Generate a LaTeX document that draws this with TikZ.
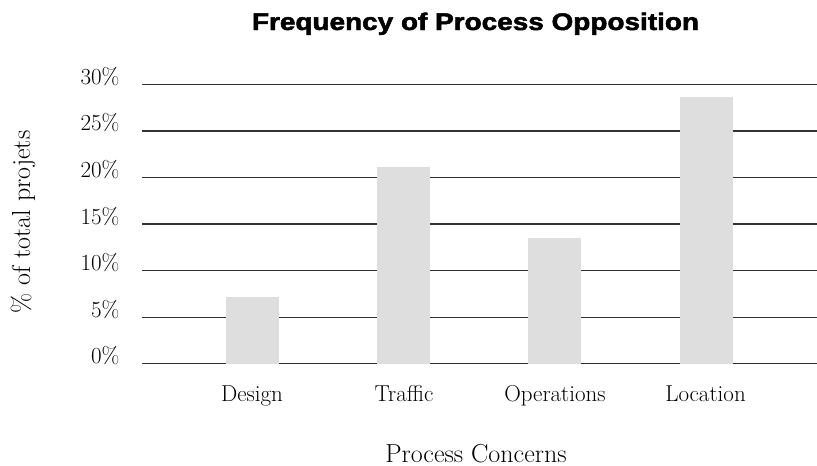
\documentclass[tikz,border=0pt]{standalone}
\usepackage{fontspec}
\newfontfamily\titlefont[FakeBold=2]{Liberation Sans}
\begin{document}
\begin{tikzpicture}[x=1pt, y=-1pt,
        grid/.style = {draw=black!80, line width=1.2pt},
        bar/.style = {fill=black!13, draw=none, inner sep=0pt, minimum width=53pt, anchor=south},
        tick/.style = {anchor=base east, font=\fontsize{23}{26}\selectfont},
        cat/.style = {anchor=base, font=\fontsize{23}{26}\selectfont},
        axis/.style = {font=\fontsize{26}{30}\selectfont}]
    \useasboundingbox (0,0) rectangle (817,466);
    % title
    \node[anchor=base, xscale=1.164, font=\titlefont\bfseries\fontsize{24}{28}\selectfont] (title) at (475.5,30) {Frequency of Process Opposition};
    % grid lines and tick labels
    \draw[grid] (142.3,84.3) -- (817,84.3);
    \draw[grid] (142.3,130.9) -- (817,130.9);
    \draw[grid] (142.3,177.4) -- (817,177.4);
    \draw[grid] (142.3,224) -- (817,224);
    \draw[grid] (142.3,270.6) -- (817,270.6);
    \draw[grid] (142.3,317.1) -- (817,317.1);
    \draw[grid] (142.3,363.7) -- (817,363.7);
    \node[tick] (t30) at (123,84.3) {30\%};
    \node[tick] (t25) at (123,130.9) {25\%};
    \node[tick] (t20) at (123,177.4) {20\%};
    \node[tick] (t15) at (123,224) {15\%};
    \node[tick] (t10) at (123,270.6) {10\%};
    \node[tick] (t5) at (123,317.1) {5\%};
    \node[tick] (t0) at (123,363.7) {0\%};
    % bars
    \node[bar, minimum height=66.7pt] (design) at (252.5,363.7) {};
    \node[bar, minimum height=197pt] (traffic) at (403.5,363.7) {};
    \node[bar, minimum height=125.7pt] (operations) at (554.5,363.7) {};
    \node[bar, minimum height=266.7pt] (location) at (706.5,363.7) {};
    % categories
    \node[cat] (ldesign) at (252,401) {Design};
    \node[cat] (ltraffic) at (404,401) {Traffic};
    \node[cat] (loperations) at (555,401) {Operations};
    \node[cat] (llocation) at (705.5,401) {Location};
    % axis titles
    \node[axis, anchor=base] (xtitle) at (476,462.5) {Process Concerns};
    \node[axis, rotate=90] (ytitle) at (23,222) {\% of total projets};
\end{tikzpicture}
\end{document}
